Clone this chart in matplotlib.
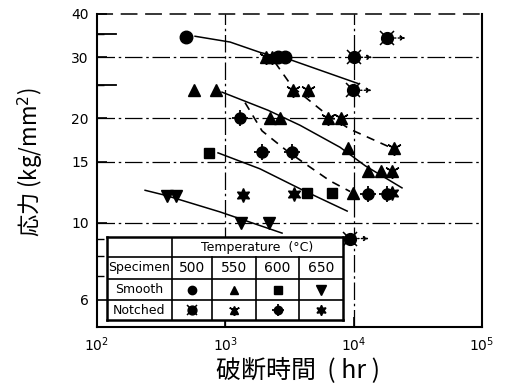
import matplotlib
matplotlib.use('Agg')
import matplotlib.pyplot as plt
from matplotlib.ticker import FixedLocator, NullFormatter, FixedFormatter

plt.rcParams['font.family'] = ['DejaVu Sans']

# ---------------- data (rupture time [hr], stress [kg/mm2]) ----------------
smooth500_t = [494, 2576, 2917]
smooth500_s = [34.3, 30.0, 30.0]
smooth550_t = [570, 846, 2228, 2667, 9036, 12950, 16350, 9890]
smooth550_s = [24.1, 24.1, 20.1, 20.1, 16.4, 14.1, 14.1, 12.2]
smooth600_t = [747, 4335, 6790]
smooth600_s = [15.9, 12.2, 12.2]
smooth650_t = [351, 413, 1326, 2190]
smooth650_s = [11.95, 11.95, 9.98, 9.98]

notched500_t = [10000, 9900, 18200, 9400]
notched500_s = [30.0, 24.1, 34.1, 9.0]
notched550_t = [2075, 2311, 3375, 4416, 6310, 7980, 20650, 20000]
notched550_s = [30.0, 30.0, 24.1, 24.1, 20.0, 20.0, 16.4, 14.1]
notched600_t = [1302, 1932, 3311, 12950, 18200]
notched600_s = [20.0, 16.0, 16.0, 12.1, 12.1]
notched650_t = [1374, 3428, 19900]
notched650_s = [12.0, 12.1, 12.2]

# unbroken (run-out) specimens
runout_t = [10000, 9900, 18200, 9400]
runout_s = [30.0, 24.1, 34.1, 9.0]

# fitted curves
curve_s500_t = [581, 1089, 1862, 3311, 10820]
curve_s500_s = [34.5, 33.2, 31.0, 29.4, 25.2]
curve_s550_t = [942, 2153, 3820, 7834, 12280, 23800]
curve_s550_s = [23.8, 21.1, 19.1, 16.5, 14.6, 12.6]
curve_s600_t = [877, 1862, 4036, 8900]
curve_s600_s = [15.9, 14.3, 12.4, 10.8]
curve_s650_t = [237, 339, 909, 2767]
curve_s650_s = [12.4, 12.0, 10.74, 9.33]
curve_n550_t = [2438, 3311, 5984, 9380, 18540]
curve_n550_s = [29.0, 24.7, 20.7, 18.6, 16.6]
curve_n600_t = [1424, 1932, 3027, 4178, 6546, 9380]
curve_n600_s = [22.2, 18.4, 16.1, 14.8, 13.2, 12.3]

xticks = [1e2, 1e3, 1e4, 1e5]
xticklabels = ['$10^2$', '$10^3$', '$10^4$', '$10^5$']
yticks = [6, 10, 15, 20, 30, 40]
yticklabels = ['6', '10', '15', '20', '30', '40']
ygrid = [10, 15, 20, 30]
xgrid = [1e3, 1e4]

temps = ['500', '550', '600', '650']

# ---------------- figure ----------------
W, H = 507, 385
fig = plt.figure(figsize=(W / 100, H / 100), dpi=100)
ax = fig.add_axes([97 / W, 1 - 327 / H, (482 - 97) / W, (327 - 14) / H])
ax.set_xscale('log')
ax.set_yscale('log')
ax.set_xlim(1e2, 1e5)
ax.set_ylim(5.0, 40)

grid_ls = (0, (14, 3, 2, 3))
for g in ygrid:
    ax.axhline(g, color='black', lw=0.9, ls=grid_ls, zorder=1)
for g in xgrid:
    ax.axvline(g, color='black', lw=0.9, ls=grid_ls, zorder=1)

ax.yaxis.set_major_locator(FixedLocator(yticks))
ax.yaxis.set_major_formatter(FixedFormatter(yticklabels))
ax.yaxis.set_minor_locator(FixedLocator([7, 8, 9, 25, 35]))
ax.yaxis.set_minor_formatter(NullFormatter())
ax.xaxis.set_major_locator(FixedLocator(xticks))
ax.xaxis.set_major_formatter(FixedFormatter(xticklabels))
ax.xaxis.set_minor_locator(FixedLocator([]))
ax.tick_params(axis='both', which='major', direction='in', length=7, width=1.2,
               labelsize=10, pad=6)
ax.tick_params(axis='y', which='minor', direction='in', length=5, width=1.0)
# long inner ticks at 25 and 35
for v in [25, 35]:
    ax.plot([0, 0.05], [v, v], transform=ax.get_yaxis_transform(),
            color='black', lw=1.3, clip_on=False, zorder=2)

for sp in ['left', 'bottom', 'right']:
    ax.spines[sp].set_linewidth(1.5)
ax.spines['top'].set_linewidth(1.1)
ax.spines['top'].set_linestyle((0, (10, 6)))

# curves
ax.plot(curve_s500_t, curve_s500_s, '-', color='black', lw=1.1, zorder=2)
ax.plot(curve_s550_t, curve_s550_s, '-', color='black', lw=1.1, zorder=2)
ax.plot(curve_s600_t, curve_s600_s, '-', color='black', lw=1.1, zorder=2)
ax.plot(curve_s650_t, curve_s650_s, '-', color='black', lw=1.1, zorder=2)
ax.plot(curve_n550_t, curve_n550_s, '--', color='black', lw=1.2, dashes=(5, 4), zorder=2)
ax.plot(curve_n600_t, curve_n600_s, '--', color='black', lw=1.2, dashes=(5, 4), zorder=2)


def smooth(a, t, s, m, ms):
    a.plot(t, s, m, color='black', ms=ms, ls='none', zorder=4, clip_on=False)


def notched(a, t, s, kind, scale=1.0):
    if kind == 500:
        a.plot(t, s, 'o', color='black', ms=8.5 * scale, ls='none', zorder=4)
        a.plot(t, s, 'x', color='black', ms=10.5 * scale, mew=1.1, ls='none', zorder=4)
    elif kind == 550:
        a.plot(t, s, '^', color='black', ms=8 * scale, ls='none', zorder=4)
        a.plot(t, s, marker=(3, 2, 180), color='black', ms=10.5 * scale, mew=1.1, ls='none', zorder=4)
    elif kind == 600:
        a.plot(t, s, 'o', color='black', ms=8 * scale, ls='none', zorder=4)
        a.plot(t, s, '+', color='black', ms=11.5 * scale, mew=1.3, ls='none', zorder=4)
    else:
        a.plot(t, s, marker=(6, 1, 0), color='black', ms=10 * scale, ls='none', zorder=4)


smooth(ax, smooth500_t, smooth500_s, 'o', 9)
smooth(ax, smooth550_t, smooth550_s, '^', 8)
smooth(ax, smooth600_t, smooth600_s, 's', 7)
smooth(ax, smooth650_t, smooth650_s, 'v', 8)
notched(ax, notched500_t, notched500_s, 500)
notched(ax, notched550_t, notched550_s, 550)
notched(ax, notched600_t, notched600_s, 600)
notched(ax, notched650_t, notched650_s, 650)

for t, s in zip(runout_t, runout_s):
    ax.annotate('', xy=(t * 1.40, s), xytext=(t * 1.07, s),
                arrowprops=dict(arrowstyle='-|>', lw=1.0, ls=':', color='black',
                                mutation_scale=7, shrinkA=0, shrinkB=0), zorder=3)

# axis labels
cjk = ['Noto Sans CJK JP', 'DejaVu Sans']
fig.text(298 / W, 1 - 370 / H, '破断時間  ( hr )', family=cjk, fontsize=18,
         ha='center', va='center')
fig.text(30 / W, 1 - 162 / H, '応力 (kg/mm$^2$)', family=cjk, fontsize=16,
         ha='center', va='center', rotation=90)

# ---------------- legend table ----------------
tx0, tx1, ty0, ty1 = 107, 343, 237, 320
tab = fig.add_axes([tx0 / W, 1 - ty1 / H, (tx1 - tx0) / W, (ty1 - ty0) / H])
tab.set_xlim(0, tx1 - tx0)
tab.set_ylim(ty1 - ty0, 0)
tab.set_xticks([])
tab.set_yticks([])
tab.set_facecolor('white')
for sp in tab.spines.values():
    sp.set_linewidth(1.8)
cols = [0, 65, 105, 149, 192, 236]
rows = [0, 20, 42, 63, 83]
for r in rows[1:-1]:
    tab.plot([0, cols[-1]], [r, r], color='black', lw=1.2)
tab.plot([cols[1], cols[1]], [0, rows[-1]], color='black', lw=1.2)
for c in cols[2:-1]:
    tab.plot([c, c], [rows[1], rows[-1]], color='black', lw=1.2)
ccx = [(cols[i] + cols[i + 1]) / 2 for i in range(5)]
rcy = [(rows[i] + rows[i + 1]) / 2 for i in range(4)]
tab.text((cols[1] + cols[-1]) / 2, rcy[0], 'Temperature  (°C)', ha='center', va='center', fontsize=9)
tab.text(ccx[0], rcy[1], 'Specimen', ha='center', va='center', fontsize=9)
tab.text(ccx[0], rcy[2], 'Smooth', ha='center', va='center', fontsize=9)
tab.text(ccx[0], rcy[3], 'Notched', ha='center', va='center', fontsize=9)
for i, tl in enumerate(temps):
    tab.text(ccx[i + 1], rcy[1], tl, ha='center', va='center', fontsize=10)
smooth(tab, [ccx[1]], [rcy[2]], 'o', 6)
smooth(tab, [ccx[2]], [rcy[2]], '^', 6)
smooth(tab, [ccx[3]], [rcy[2]], 's', 5.5)
smooth(tab, [ccx[4]], [rcy[2]], 'v', 6.5)
notched(tab, [ccx[1]], [rcy[3]], 500, 0.75)
notched(tab, [ccx[2]], [rcy[3]], 550, 0.75)
notched(tab, [ccx[3]], [rcy[3]], 600, 0.75)
notched(tab, [ccx[4]], [rcy[3]], 650, 0.75)

fig.savefig('out.png', dpi=100)
